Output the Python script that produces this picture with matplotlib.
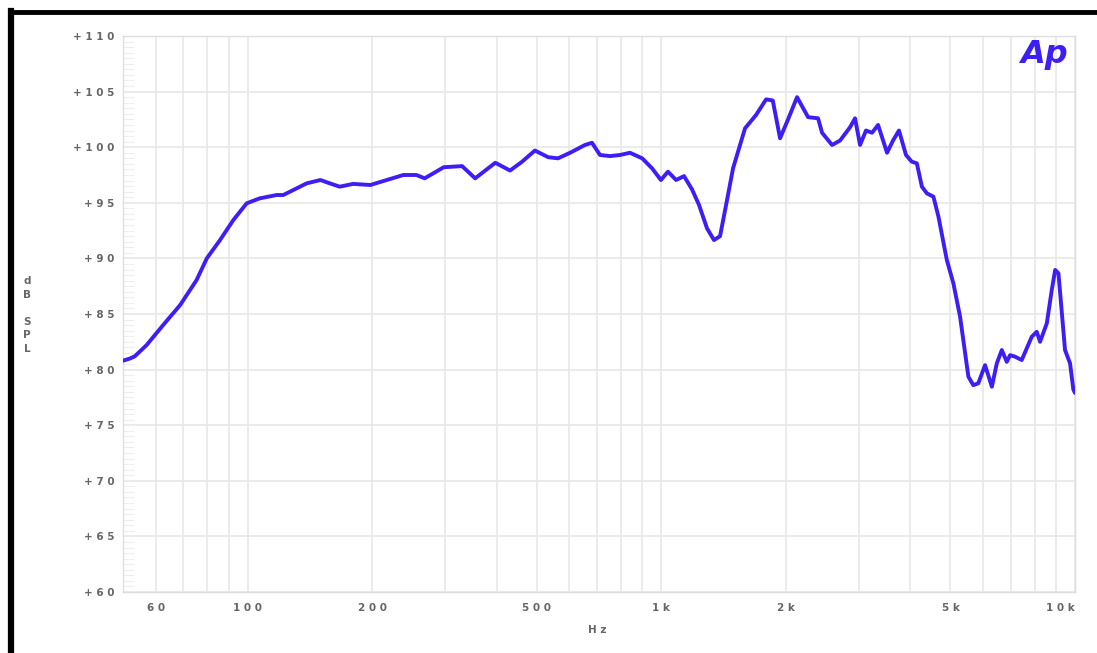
import matplotlib
matplotlib.use("Agg")
import matplotlib.pyplot as plt
from matplotlib.lines import Line2D
from matplotlib.ticker import LogLocator, MultipleLocator, NullFormatter

# --- Data ---
FREQ_HZ = [50, 52, 53.4, 57, 62.5, 68.7, 75.3, 79.7, 85.8, 92.4, 99.5, 107, 117.6, 122, 129,
           139, 150, 158, 167, 180, 198, 217, 238, 256, 268, 298, 330, 355, 397, 431, 461,
           495, 533, 563, 602, 654, 680, 711, 752, 795, 840, 899, 950, 998, 1038, 1086, 1135,
           1187, 1234, 1290, 1341, 1387, 1442, 1491, 1594, 1695, 1792, 1860, 1937, 2030, 2129,
           2264, 2393, 2447, 2587, 2705, 2860, 2940, 3023, 3125, 3232, 3342, 3513, 3632, 3754,
           3904, 4030, 4147, 4265, 4385, 4548, 4677, 4900, 5082, 5275, 5525, 5678, 5838, 6062,
           6296, 6473, 6654, 6841, 6969, 7164, 7434, 7862, 8082, 8232, 8548, 8787, 8955, 9120,
           9460, 9727, 9910, 10000]
SPL_DB = [80.8, 81.0, 81.2, 82.2, 84.0, 85.8, 88.05, 90.0, 91.65, 93.45, 94.95, 95.4, 95.7, 95.7,
          96.15, 96.75, 97.05, 96.75, 96.45, 96.7, 96.6, 97.05, 97.5, 97.5, 97.2, 98.2, 98.3, 97.2,
          98.6, 97.9, 98.7, 99.7, 99.1, 99.0, 99.5, 100.2, 100.4, 99.3, 99.2, 99.3, 99.5, 99.0,
          98.1, 97.05, 97.8, 97.05, 97.4, 96.2, 94.8, 92.7, 91.65, 92.0, 95.25, 98.1, 101.7, 102.9,
          104.3, 104.2, 100.8, 102.6, 104.5, 102.7, 102.6, 101.3, 100.2, 100.6, 101.8, 102.6,
          100.2, 101.5, 101.3, 102.0, 99.5, 100.6, 101.5, 99.3, 98.7, 98.55, 96.45, 95.85, 95.55,
          93.75, 89.86, 87.76, 84.76, 79.36, 78.6, 78.77, 80.4, 78.46, 80.57, 81.76, 80.7, 81.3,
          81.16, 80.86, 82.96, 83.4, 82.5, 84.16, 87.16, 88.96, 88.66, 81.76, 80.57, 78.2, 77.9]

XTICKS = [60, 100, 200, 500, 1000, 2000, 5000, 10000]
XTICK_LABELS = ["60", "100", "200", "500", "1k", "2k", "5k", "10k"]
YTICKS = [60, 65, 70, 75, 80, 85, 90, 95, 100, 105, 110]
YTICK_LABELS = ["+60", "+65", "+70", "+75", "+80", "+85", "+90", "+95", "+100", "+105", "+110"]

LINE_COLOR = "#3d1ef5"
GRID_COLOR = "#e9e9e9"
TEXT_COLOR = "#666666"


def spaced(s):
    # AP-style wide letter spacing
    return " ".join(s)


fig = plt.figure(figsize=(10.97, 6.53), dpi=100)
fig.patch.set_facecolor("white")
ax = fig.add_axes([123 / 1097, 1 - 592 / 653, 952 / 1097, 556 / 653])

ax.plot(FREQ_HZ, SPL_DB, color=LINE_COLOR, lw=2.8, solid_joinstyle="round",
        solid_capstyle="round", zorder=3)

ax.set_xscale("log")
ax.set_xlim(50, 10000)
ax.set_ylim(60, 110)

# grid: every 1..9 per decade vertically, every 5 dB horizontally
ax.xaxis.set_minor_locator(LogLocator(base=10, subs=range(1, 10), numticks=20))
ax.xaxis.set_minor_formatter(NullFormatter())
ax.set_xticks(XTICKS, [spaced(t) for t in XTICK_LABELS])
ax.set_yticks(YTICKS, [spaced(t) for t in YTICK_LABELS])
ax.yaxis.set_minor_locator(MultipleLocator(0.5))
ax.grid(which="both", axis="x", color=GRID_COLOR, lw=1.3, zorder=0)
ax.grid(which="major", axis="y", color=GRID_COLOR, lw=1.3, zorder=0)

ax.tick_params(axis="both", which="major", length=0, labelsize=7.5, labelcolor=TEXT_COLOR)
ax.tick_params(axis="x", which="minor", length=0)
ax.tick_params(axis="y", which="minor", direction="in", length=8, color="#eeeeee", width=0.8)
ax.tick_params(axis="x", pad=8)
ax.tick_params(axis="y", pad=6)
for lbl in ax.get_xticklabels() + ax.get_yticklabels():
    lbl.set_fontweight("bold")
ax.get_xticklabels()[-1].set_horizontalalignment("right")

for sp in ax.spines.values():
    sp.set_color("#dedede")
    sp.set_linewidth(1.0)

# axis titles
fig.text(597 / 1097, 1 - 630 / 653, spaced("Hz"), ha="center", va="center",
         fontsize=7.5, color=TEXT_COLOR, fontweight="bold")
fig.text(27 / 1097, 1 - 315 / 653, "d\nB\n\nS\nP\nL", ha="center", va="center",
         fontsize=7.5, color=TEXT_COLOR, fontweight="bold", linespacing=1.45)

# Ap logo
ax.text(0.967, 0.966, "Ap", transform=ax.transAxes, ha="center", va="center",
        fontsize=23, fontstyle="italic", fontweight="bold", color=LINE_COLOR)

# heavy black frame on the top and left of the screenshot
fig.add_artist(Line2D([10 / 1097, 1.0], [1 - 12 / 653, 1 - 12 / 653],
                      color="black", lw=3.5, transform=fig.transFigure))
fig.add_artist(Line2D([11 / 1097, 11 / 1097], [0, 1 - 11 / 653],
                      color="black", lw=4.5, transform=fig.transFigure))

fig.savefig("out.png", dpi=100)
